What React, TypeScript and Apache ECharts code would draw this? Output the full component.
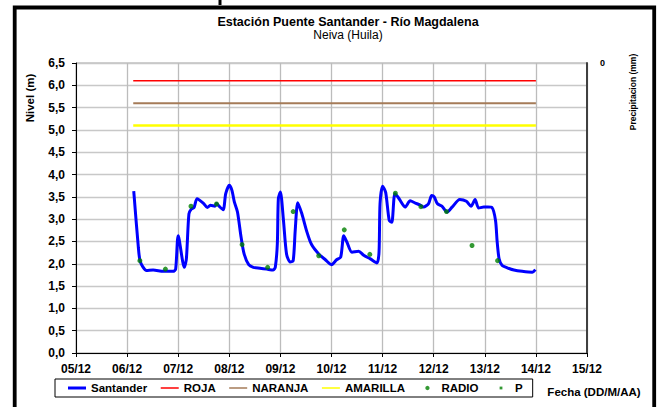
import { useEffect, useRef } from 'react';
import * as echarts from 'echarts';

// x values are days of December (fractional = time of day)
const dateLabels = ['05/12', '06/12', '07/12', '08/12', '09/12', '10/12', '11/12', '12/12', '13/12', '14/12', '15/12'];

const santanderDays = [
  6.13, 6.22, 6.26, 6.38, 6.51, 6.71, 6.9, 6.95, 7.0, 7.12, 7.16, 7.21, 7.26, 7.31, 7.37, 7.49, 7.57, 7.63,
  7.72, 7.75, 7.8, 7.88, 7.93, 8.0, 8.05, 8.1, 8.16, 8.23, 8.29, 8.38, 8.47, 8.6, 8.73, 8.86, 8.9, 8.94,
  8.96, 9.0, 9.06, 9.12, 9.19, 9.25, 9.29, 9.34, 9.42, 9.52, 9.61, 9.75, 9.88, 10.0, 10.1, 10.18, 10.24,
  10.3, 10.4, 10.53, 10.63, 10.76, 10.89, 10.93, 10.95, 11.0, 11.06, 11.13, 11.18, 11.24, 11.31, 11.37,
  11.44, 11.54, 11.64, 11.73, 11.8, 11.9, 11.96, 12.01, 12.07, 12.16, 12.26, 12.36, 12.51, 12.64, 12.73,
  12.81, 12.88, 12.98, 13.06, 13.14, 13.21, 13.24, 13.28, 13.34, 13.44, 13.57, 13.73, 13.93, 13.99,
];
const santanderLevels = [
  3.63, 2.37, 2.04, 1.85, 1.86, 1.83, 1.83, 1.88, 2.63, 1.92, 2.11, 3.12, 3.23, 3.26, 3.46, 3.36, 3.26, 3.31,
  3.29, 3.35, 3.29, 3.21, 3.57, 3.76, 3.65, 3.38, 3.16, 2.6, 2.22, 1.98, 1.92, 1.9, 1.88, 1.86, 1.92, 2.45,
  3.46, 3.61, 2.97, 2.22, 2.04, 2.07, 2.75, 3.37, 3.12, 2.71, 2.43, 2.22, 2.09, 1.98, 2.09, 2.15, 2.63,
  2.49, 2.26, 2.28, 2.19, 2.11, 2.02, 2.26, 3.35, 3.74, 3.6, 2.97, 2.93, 3.57, 3.48, 3.37,
  3.27, 3.41, 3.36, 3.32, 3.27, 3.35, 3.53, 3.5, 3.35, 3.29, 3.16, 3.27, 3.44, 3.4, 3.29,
  3.44, 3.25, 3.27, 3.27, 3.26, 2.97, 2.52, 2.11, 1.96, 1.91, 1.86, 1.83, 1.81, 1.87,
];

const radioDays = [6.25, 6.75, 7.25, 7.75, 8.25, 8.75, 9.25, 9.75, 10.25, 10.75, 11.25, 11.75, 12.25, 12.75, 13.25];
const radioLevels = [2.07, 1.88, 3.29, 3.34, 2.43, 1.92, 3.17, 2.18, 2.76, 2.21, 3.58, 3.28, 3.17, 2.41, 2.07];

const precipitationDays: number[] = [];
const precipitationValues: number[] = [];

const thresholdDays = [6.12, 14.0];
const rojaLevel = 6.1;
const naranjaLevel = 5.6;
const amarillaLevel = 5.1;

const FONT = '"Liberation Sans", Arial, sans-serif';

export default function App() {
  const ref = useRef<HTMLDivElement>(null);

  useEffect(() => {
    if (!ref.current) return;
    const chart = echarts.init(ref.current, undefined, { renderer: 'svg' });

    const pairs = (xs: number[], ys: number[]) => xs.map((x, i) => [x, ys[i]]);
    const flat = (level: number) => thresholdDays.map((d) => [d, level]);

    const lineIcon = (h: number) => `path://M0,0M18,10M0,${5 - h / 2}L18,${5 - h / 2}L18,${5 + h / 2}L0,${5 + h / 2}Z`;
    const dotIcon =
      'path://M0,0M18,10M9,2.8L10.6,3.4L11.2,5L10.6,6.6L9,7.2L7.4,6.6L6.8,5L7.4,3.4Z';
    const squareIcon = 'path://M0,0M18,10M7.6,3.6L10.4,3.6L10.4,6.4L7.6,6.4Z';

    const txt = (
      text: string,
      x: number,
      y: number,
      fontSize: number,
      bold: boolean,
      rotation = 0,
    ) => ({
      type: 'text',
      x,
      y,
      rotation,
      silent: true,
      style: {
        text,
        fontFamily: FONT,
        fontWeight: bold ? 'bold' : 'normal',
        fontSize,
        fill: '#000',
        align: 'center',
        verticalAlign: 'middle',
        textAlign: 'center',
        textVerticalAlign: 'middle',
      },
    });

    const option: any = {
      animation: false,
      textStyle: { fontFamily: FONT },
      grid: {
        left: 76,
        top: 63,
        right: 76,
        bottom: 54,
        show: true,
        borderColor: '#a0a0a0',
        borderWidth: 1,
      },
      legend: {
        left: 55,
        top: 379,
        padding: [3, 10, 3, 13],
        itemWidth: 18,
        itemHeight: 10,
        itemGap: 13.5,
        borderColor: '#000',
        borderWidth: 1,
        borderRadius: 0,
        itemStyle: { borderWidth: 0 },
        textStyle: { fontFamily: FONT, fontWeight: 'bold', fontSize: 11.5, color: '#000' },
        data: [
          { name: 'Santander', icon: lineIcon(3) },
          { name: 'ROJA', icon: lineIcon(1.5) },
          { name: 'NARANJA', icon: lineIcon(1.5) },
          { name: 'AMARILLA', icon: lineIcon(1.5) },
          { name: 'RADIO', icon: dotIcon },
          { name: 'P', icon: squareIcon },
        ],
      },
      graphic: [
        {
          type: 'rect',
          silent: true,
          shape: { x: 14.7, y: 7.5, width: 639.5, height: 430 },
          style: { fill: 'none', stroke: '#000', lineWidth: 3.8 },
        },
        {
          type: 'line',
          silent: true,
          shape: { x1: 220, y1: 0, x2: 220, y2: 5 },
          style: { stroke: '#000', lineWidth: 3 },
        },
        txt('Estación Puente Santander - Río Magdalena', 348, 21.8, 12.5, true),
        txt('Neiva (Huila)', 348, 34.8, 12, false),
        txt('Nivel (m)', 30, 98, 11.5, true, Math.PI / 2),
        txt('Precipitacion (mm)', 633, 92, 8.5, true, Math.PI / 2),
        txt('Fecha (DD/M/AA)', 594, 391.5, 11.5, true),
      ],
      xAxis: {
        type: 'value',
        min: 5,
        max: 15,
        interval: 1,
        axisLine: { show: true, onZero: false, lineStyle: { color: '#000', width: 1 } },
        axisTick: { show: true, length: 4, lineStyle: { color: '#000' } },
        axisLabel: {
          margin: 10,
          fontFamily: FONT,
          fontWeight: 'bold',
          fontSize: 12,
          color: '#000',
          formatter: (v: number) => dateLabels[Math.round(v - 5)] ?? '',
        },
        splitLine: { show: true, lineStyle: { color: '#bcbcbc', width: 1.3 } },
      },
      yAxis: [
        {
          type: 'value',
          min: 0,
          max: 6.5,
          interval: 0.5,
          position: 'left',
          axisLine: { show: true, onZero: false, lineStyle: { color: '#000', width: 1 } },
          axisTick: { show: true, length: 4, lineStyle: { color: '#000' } },
          axisLabel: {
            margin: 11,
            fontFamily: FONT,
            fontWeight: 'bold',
            fontSize: 12,
            color: '#000',
            formatter: (v: number) => v.toFixed(1).replace('.', ','),
          },
          splitLine: { show: true, lineStyle: { color: '#c8c8c8', width: 1.3 } },
        },
        {
          type: 'value',
          min: 0,
          max: 1,
          interval: 1,
          inverse: true,
          position: 'right',
          axisLine: { show: true, onZero: false, lineStyle: { color: '#404040', width: 2 } },
          axisTick: { show: false },
          axisLabel: {
            margin: 13,
            fontFamily: FONT,
            fontWeight: 'bold',
            fontSize: 9,
            color: '#000',
            formatter: (v: number) => (v === 0 ? '0' : ''),
          },
          splitLine: { show: false },
        },
      ],
      series: [
        {
          name: 'ROJA',
          type: 'line',
          data: flat(rojaLevel),
          showSymbol: false,
          symbol: 'none',
          color: '#ff0000',
          lineStyle: { color: '#ff0000', width: 1.5 },
          itemStyle: { color: '#ff0000', borderWidth: 0 },
          z: 3,
        },
        {
          name: 'NARANJA',
          type: 'line',
          data: flat(naranjaLevel),
          showSymbol: false,
          symbol: 'none',
          color: '#a57b58',
          lineStyle: { color: '#a57b58', width: 2 },
          itemStyle: { color: '#a57b58', borderWidth: 0 },
          z: 3,
        },
        {
          name: 'AMARILLA',
          type: 'line',
          data: flat(amarillaLevel),
          showSymbol: false,
          symbol: 'none',
          color: '#ffff00',
          lineStyle: { color: '#ffff00', width: 2.5 },
          itemStyle: { color: '#ffff00', borderWidth: 0 },
          z: 3,
        },
        {
          name: 'Santander',
          type: 'line',
          data: pairs(santanderDays, santanderLevels),
          showSymbol: false,
          symbol: 'none',
          smooth: 0.25,
          color: '#0000ff',
          lineStyle: { color: '#0000ff', width: 3 },
          itemStyle: { color: '#0000ff', borderWidth: 0 },
          z: 4,
        },
        {
          name: 'RADIO',
          type: 'scatter',
          data: pairs(radioDays, radioLevels),
          symbol: 'circle',
          symbolSize: 5,
          color: '#008000',
          itemStyle: { color: '#008000' },
          z: 5,
        },
        {
          name: 'P',
          type: 'scatter',
          yAxisIndex: 1,
          data: pairs(precipitationDays, precipitationValues),
          symbol: 'rect',
          symbolSize: 4,
          color: '#008000',
          itemStyle: { color: '#008000' },
          z: 5,
        },
      ],
    };

    chart.setOption(option);
    return () => chart.dispose();
  }, []);

  return (
    <div
      ref={ref}
      style={{ position: 'absolute', left: 0, top: 0, width: 663, height: 407, background: '#fff' }}
    />
  );
}
